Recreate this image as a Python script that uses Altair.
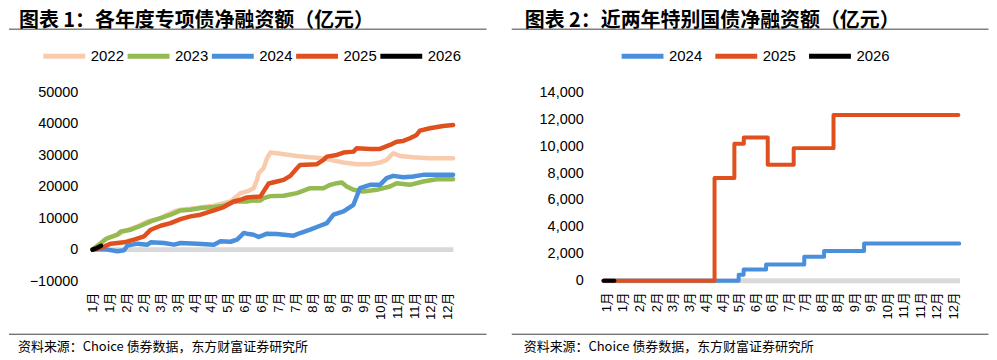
import json
import pandas as pd
import altair as alt

# ---------------- data ----------------
X_LABELS = ["1月", "1月", "2月", "2月", "3月", "3月", "4月", "4月", "5月", "6月", "6月",
            "7月", "7月", "8月", "8月", "9月", "9月", "10月", "11月", "11月", "12月", "12月"]

# Chart 1: special bonds net financing (position along x axis in label-index units, value in 亿元)
YEARS1 = ["2022", "2023", "2024", "2025", "2026"]
COLORS1 = ["#F8CBAD", "#94BB52", "#4A8FDB", "#E0501E", "#000000"]

c1_2022_x = [0, 0.09, 0.88, 1.47, 1.86, 2.65, 3.24, 4.02, 4.81, 5.20, 6.19, 7.17, 8.15, 8.74, 9.13, 9.52,
             9.72, 9.82, 10.11, 10.31, 10.51, 10.90, 12.08, 12.86, 13.65, 14.04, 14.83, 15.61, 16.40,
             16.99, 17.38, 17.77, 18.17, 18.95, 19.94, 21.31]
c1_2022_y = [0, 540, 3700, 4750, 5800, 7390, 8970, 10030, 12140, 12670, 13200, 13940, 15300, 17960, 18500,
             19530, 22170, 24280, 25870, 29040, 30830, 30620, 29780, 29350, 29040, 28510, 27670, 27140,
             27140, 27670, 28510, 30620, 29780, 29350, 29040, 29040]

c1_2023_x = [0, 0.39, 0.78, 1.47, 1.67, 2.26, 2.85, 3.44, 4.02, 4.61, 5.20, 5.79, 6.38, 7.17, 7.75, 8.34,
             9.13, 9.33, 9.92, 10.11, 10.51, 11.29, 12.08, 12.86, 13.65, 14.04, 14.44, 14.73, 15.02, 15.42,
             16.00, 16.79, 17.58, 17.97, 18.76, 19.54, 20.33, 21.31]
c1_2023_y = [0, 1580, 3380, 4750, 5800, 6330, 7600, 8970, 10030, 11090, 12460, 12670, 13200, 13520, 13940,
             15300, 15300, 15520, 15620, 16370, 17000, 17100, 17950, 19530, 19530, 20590, 21120, 21330,
             20060, 19000, 18480, 19000, 20060, 21120, 20590, 21640, 22380, 22380]

c1_2024_x = [0, 0.09, 0.88, 1.47, 1.86, 2.06, 2.65, 3.24, 3.44, 4.22, 4.81, 5.20, 6.19, 7.17, 7.56, 8.15,
             8.54, 8.74, 8.93, 9.13, 9.52, 9.82, 10.31, 10.90, 11.88, 12.27, 12.86, 13.45, 13.85, 14.24,
             14.83, 15.42, 15.61, 15.81, 16.40, 16.99, 17.38, 17.77, 18.36, 18.95, 19.54, 21.31]
c1_2024_y = [0, 200, 0, -530, -210, 1270, 1900, 1580, 2320, 2110, 1580, 2110, 1900, 1580, 2640, 2500,
             3170, 4220, 5280, 5070, 4750, 4010, 5070, 4960, 4430, 5280, 6330, 7600, 8440, 11090,
             12140, 14250, 16880, 19530, 20590, 20590, 22700, 23440, 23020, 23230, 23760, 23760]

c1_2025_x = [0, 0.49, 1.08, 1.86, 2.45, 3.04, 3.44, 4.02, 4.61, 5.20, 5.79, 6.38, 7.17, 7.75, 8.34, 8.74,
             9.13, 9.92, 10.11, 10.41, 10.90, 11.29, 11.69, 12.08, 12.27, 13.26, 13.65, 13.85, 14.44,
             14.83, 15.42, 15.61, 16.40, 16.99, 17.58, 17.97, 18.36, 18.76, 19.15, 19.35, 19.94, 20.72,
             21.31]
c1_2025_y = [0, 530, 1900, 2320, 3170, 4220, 6330, 7600, 8440, 9710, 10560, 11090, 12460, 13520, 15300,
             15840, 16570, 16880, 18500, 21000, 21640, 22170, 23440, 25870, 26920, 27140, 28510, 29560,
             30090, 30830, 31140, 32210, 31990, 31990, 33260, 34310, 34530, 35380, 36430, 37800, 38550,
             39280, 39600]

c1_2026_x = [0, 0.25, 0.5]
c1_2026_y = [0, 500, 1200]

# Chart 2: special treasury bonds net financing
YEARS2 = ["2024", "2025", "2026"]
COLORS2 = ["#4A8FDB", "#E0501E", "#000000"]

c2_2024_x = [-0.18, 8.0, 8.3, 9.66, 11.97, 13.17, 15.59, 21.35]
c2_2024_y = [0, 450, 840, 1210, 1780, 2200, 2760, 2760]

c2_2025_x = [-0.18, 6.54, 7.74, 8.31, 9.76, 11.33, 13.74, 21.3]
c2_2025_y = [0, 7630, 10170, 10640, 8610, 9850, 12320, 12320]

c2_2026_x = [-0.18, 0.48]
c2_2026_y = [0, 0]

Y1_TICKS = [-10000, 0, 10000, 20000, 30000, 40000, 50000]
Y2_TICKS = [0, 2000, 4000, 6000, 8000, 10000, 12000, 14000]

TITLE1 = "图表 1：各年度专项债净融资额（亿元）"
TITLE2 = "图表 2：近两年特别国债净融资额（亿元）"
SOURCE = "资料来源：Choice 债券数据，东方财富证券研究所"


def frame(series):
    rows = []
    for name, xs, ys in series:
        for i, (x, y) in enumerate(zip(xs, ys)):
            rows.append({"year": name, "pos": x, "val": y, "order": i})
    return pd.DataFrame(rows)


df1 = frame([("2022", c1_2022_x, c1_2022_y), ("2023", c1_2023_x, c1_2023_y),
             ("2024", c1_2024_x, c1_2024_y), ("2025", c1_2025_x, c1_2025_y),
             ("2026", c1_2026_x, c1_2026_y)])
df2 = frame([("2024", c2_2024_x, c2_2024_y), ("2025", c2_2025_x, c2_2025_y),
             ("2026", c2_2026_x, c2_2026_y)])

LABEL_EXPR = json.dumps(X_LABELS, ensure_ascii=False) + "[datum.value]"
FONT = "Liberation Sans, Arial, Noto Sans CJK SC"
CJK = "Noto Sans CJK SC"
one = pd.DataFrame({"k": [0]})
zero_df = pd.DataFrame({"val": [0]})


def panel(df, years, colors, xdom, ydom, yticks, yfmt, ylabpad, legx, colpad, title, title_x,
          rule_x0, rule_x1, src_x, width, height, stroke_w, interp):
    x = alt.X("pos:Q", scale=alt.Scale(domain=xdom, nice=False, zero=False),
              axis=alt.Axis(values=list(range(len(X_LABELS))), labelExpr=LABEL_EXPR, labelAngle=270,
                            labelFont=FONT, labelFontSize=13, labelColor="#000000", labelPadding=11,
                            domain=False, ticks=False, grid=False, labelOverlap=False,
                            labelFlush=False, labelBound=False, title=None))
    y = alt.Y("val:Q", scale=alt.Scale(domain=ydom, nice=False, zero=False),
              axis=alt.Axis(values=yticks, format=yfmt, labelFont=FONT, labelFontSize=14.5,
                            labelColor="#000000", labelPadding=ylabpad, domain=False, ticks=False,
                            grid=False, labelOverlap=False, labelFlush=False, labelBound=False,
                            title=None))
    color = alt.Color("year:N", scale=alt.Scale(domain=years, range=colors),
                      legend=alt.Legend(orient="none", legendX=legx, legendY=-60, direction="horizontal",
                                        title=None, symbolType="stroke", symbolSize=1764,
                                        symbolStrokeWidth=5, labelFont=FONT, labelFontSize=15,
                                        labelColor="#000000", labelOffset=3, columnPadding=colpad))
    zero = alt.Chart(zero_df).mark_rule(color="#D9D9D9", strokeWidth=5).encode(y=y)
    lines = alt.Chart(df).mark_line(strokeWidth=stroke_w, strokeCap="round", strokeJoin="round",
                                    interpolate=interp).encode(x=x, y=y, color=color,
                                                               order="order:Q")
    spacer = alt.Chart(one).mark_rule(strokeOpacity=0, strokeWidth=1).encode(
        x=alt.value(0), x2=alt.value(10), y=alt.value(-83.8))
    ttl = alt.Chart(one).mark_text(align="left", baseline="middle", fontSize=20, fontWeight="bold",
                                   font=CJK, color="#000000").encode(
        x=alt.value(title_x), y=alt.value(-71.5), text=alt.value(title))
    top_rule = alt.Chart(one).mark_rule(color="#404040", strokeWidth=1).encode(
        x=alt.value(rule_x0), x2=alt.value(rule_x1), y=alt.value(-63.3))
    bot_rule = alt.Chart(one).mark_rule(color="#404040", strokeWidth=1).encode(
        x=alt.value(rule_x0), x2=alt.value(rule_x1), y=alt.value(242.7))
    src = alt.Chart(one).mark_text(align="left", baseline="middle", fontSize=13, font=CJK,
                                   color="#000000").encode(
        x=alt.value(src_x), y=alt.value(255.7), text=alt.value(SOURCE))
    return alt.layer(zero, lines, spacer, ttl, top_rule, bot_rule, src).properties(
        width=width, height=height)


p1 = panel(df1, YEARS1, COLORS1, [-0.05, 21.33], [-10000, 50000], Y1_TICKS, "d", 14, -51, -7.5,
           TITLE1, -73, -83, 396, -74, 362.8, 189.4, 4.5, "linear")
p2 = panel(df2, YEARS2, COLORS2, [-0.2, 21.4], [0, 14000], Y2_TICKS, ",d", 20, 16, 2,
           TITLE2, -78.7, -91.7, 386.5, -79.7, 358, 189, 4, "step-after")

chart = alt.hconcat(p1, p2, spacing=23).resolve_scale(
    x="independent", y="independent", color="independent").resolve_legend(
    color="independent").properties(padding=0).configure_view(stroke=None).configure_axis(
    labelOverlap=False)

chart.save("out.html", embed_options={"renderer": "svg", "actions": False})
